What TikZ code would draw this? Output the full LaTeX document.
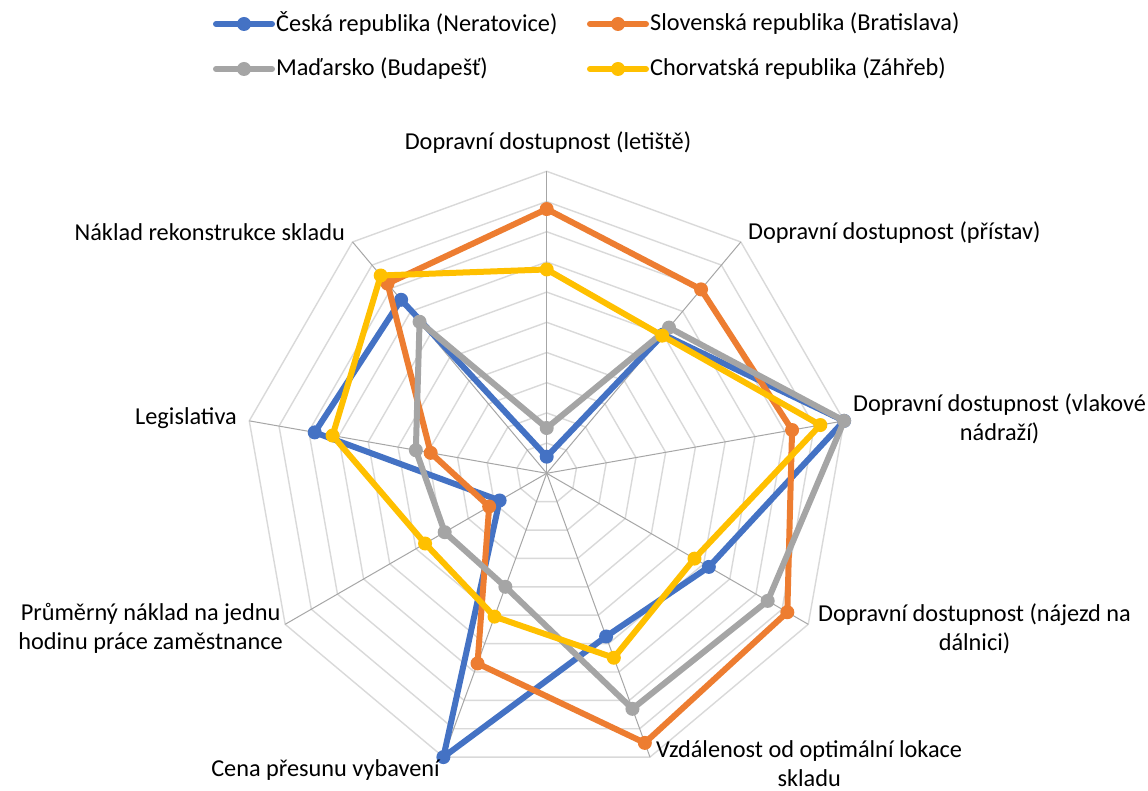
\documentclass[tikz,border=0pt]{standalone}
\usepackage{fontspec}
\setmainfont{Carlito}
\usetikzlibrary{calc}
\definecolor{cblue}{HTML}{4472C4}
\definecolor{corange}{HTML}{ED7D31}
\definecolor{cgray}{HTML}{A5A5A5}
\definecolor{cyellow}{HTML}{FFC000}
\definecolor{gridc}{HTML}{D9D9D9}
\definecolor{axisc}{HTML}{A6A6A6}
\newcommand\drawseries[3]{%
  \foreach \v [count=\i from 0] in {#3} {\coordinate (#1\i) at ({90-40*\i}:\v);}
  \draw[serline,#2] (#10) -- (#11) -- (#12) -- (#13) -- (#14) -- (#15) -- (#16) -- (#17) -- (#18) -- cycle;
  \foreach \i in {0,...,8} {\fill[#2] (#1\i) circle (7pt);}
}
\begin{document}
\begin{tikzpicture}[x=1pt,y=1pt,
  lbl/.style={font=\fontsize{24.3}{29}\selectfont, inner sep=0pt, text=black, align=center},
  gridline/.style={draw=gridc, line width=1.4pt},
  axisline/.style={draw=axisc, line width=1pt},
  serline/.style={line width=6pt, line join=round, line cap=round},
  legline/.style={line width=6pt, line cap=round}]
\useasboundingbox (0,0) rectangle (1148,-791);
\fill[white] (0,0) rectangle (1148,-791);
\begin{scope}[shift={(546.7,-473.3)}, x=30.2pt, y=30.2pt]
  \foreach \r in {1,...,10} {\draw[gridline] (90:\r) -- (50:\r) -- (10:\r) -- (-30:\r) -- (-70:\r) -- (-110:\r) -- (-150:\r) -- (170:\r) -- (130:\r) -- cycle;}
  \foreach \k in {0,...,8} {\draw[axisline] (0,0) -- ({90-40*\k}:10);}
  \drawseries{b}{cblue}{0.55,6.0,10,6.2,5.75,10,1.8,7.8,7.5}
  \drawseries{o}{corange}{8.75,7.95,8.25,9.2,9.5,6.7,2.2,3.9,8.2}
  \drawseries{g}{cgray}{1.5,6.3,10,8.45,8.3,4.0,3.9,4.4,6.55}
  \drawseries{y}{cyellow}{6.75,5.95,9.2,5.65,6.5,5.05,4.65,7.2,8.55}
\end{scope}
% axis labels
\node[lbl] (l0) at (548,-143) {Dopravní dostupnost (letiště)};
\node[lbl, anchor=west] (l1) at (748,-233) {Dopravní dostupnost (přístav)};
\node[lbl, anchor=west] (l2) at (853,-418.5) {Dopravní dostupnost (vlakové\\nádraží)};
\node[lbl, anchor=west] (l3) at (818,-629) {Dopravní dostupnost (nájezd na\\dálnici)};
\node[lbl, anchor=west] (l4) at (656,-764) {Vzdálenost od optimální lokace\\skladu};
\node[lbl, anchor=east] (l5) at (440,-770) {Cena přesunu vybavení};
\node[lbl, anchor=east] (l6) at (283,-628) {Průměrný náklad na jednu\\hodinu práce zaměstnance};
\node[lbl, anchor=east] (l7) at (237,-418) {Legislativa};
\node[lbl, anchor=east] (l8) at (345,-232) {Náklad rekonstrukce skladu};
% legend
\coordinate (lb1) at (216,-24); \coordinate (lb2) at (272,-24);
\coordinate (lo1) at (590,-24); \coordinate (lo2) at (646,-24);
\coordinate (lg1) at (216,-69); \coordinate (lg2) at (272,-69);
\coordinate (ly1) at (590,-69); \coordinate (ly2) at (646,-69);
\draw[legline,cblue] (lb1) -- (lb2); \fill[cblue] ($(lb1)!0.5!(lb2)$) circle (7pt);
\draw[legline,corange] (lo1) -- (lo2); \fill[corange] ($(lo1)!0.5!(lo2)$) circle (7pt);
\draw[legline,cgray] (lg1) -- (lg2); \fill[cgray] ($(lg1)!0.5!(lg2)$) circle (7pt);
\draw[legline,cyellow] (ly1) -- (ly2); \fill[cyellow] ($(ly1)!0.5!(ly2)$) circle (7pt);
\node[lbl, anchor=west] (t1) at (276,-24) {Česká republika (Neratovice)};
\node[lbl, anchor=west] (t2) at (650,-24) {Slovenská republika (Bratislava)};
\node[lbl, anchor=west] (t3) at (276,-69) {Maďarsko (Budapešť)};
\node[lbl, anchor=west] (t4) at (650,-69) {Chorvatská republika (Záhřeb)};
\end{tikzpicture}
\end{document}
